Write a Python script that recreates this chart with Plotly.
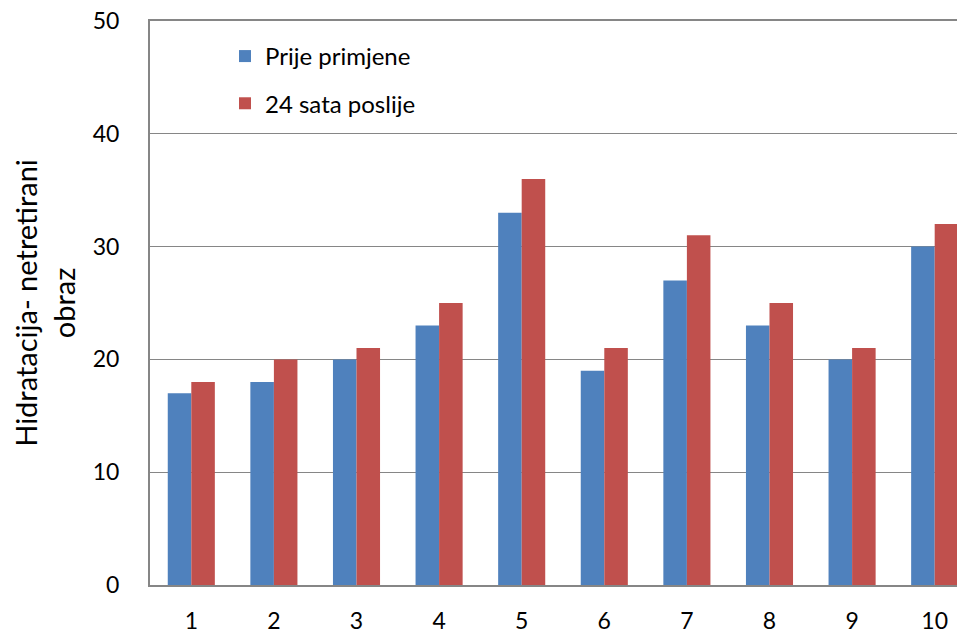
import plotly.graph_objects as go

categories = ["1", "2", "3", "4", "5", "6", "7", "8", "9", "10"]
prije = [17, 18, 20, 23, 33, 19, 27, 23, 20, 30]
poslije = [18, 20, 21, 25, 36, 21, 31, 25, 21, 32]
series_names = ["Prije primjene", "24 sata poslije"]
y_ticks = [0, 10, 20, 30, 40, 50]

FONT = "Lato"
x_idx = list(range(1, len(categories) + 1))

fig = go.Figure()
fig.add_trace(go.Bar(x=x_idx, y=prije, name=series_names[0], marker_color="#4F81BD",
                     marker_line_width=0, legendgroup="a"))
fig.add_trace(go.Bar(x=x_idx, y=poslije, name=series_names[1], marker_color="#C0504D",
                     marker_line_width=0, legendgroup="b"))

# page body has an 8px margin, so the figure is sized/offset to compensate
fig.update_layout(
    width=957, height=622,
    margin=dict(l=142, r=0, t=13, b=45, autoexpand=False),
    paper_bgcolor="white", plot_bgcolor="white",
    barmode="group", bargap=0.43, bargroupgap=0,
    font=dict(family=FONT, size=23, color="black"),
    legend=dict(x=0.092, y=0.977, xanchor="left", yanchor="top",
                bgcolor="rgba(0,0,0,0)", font=dict(size=24), tracegroupgap=13,
                itemwidth=30),
    xaxis=dict(tickmode="array", tickvals=x_idx, ticktext=categories,
               range=[0.5, 10.367], showgrid=False, showline=True, mirror=True,
               linecolor="#868686", linewidth=2, ticks="", ticklabelstandoff=14,
               ticklabeloverflow="allow", tickfont=dict(size=23)),
    yaxis=dict(range=[0, 50.001], tickvals=y_ticks, showgrid=True, gridcolor="#868686",
               gridwidth=1, showline=True, linecolor="#868686", linewidth=2,
               ticks="", ticklabelstandoff=24, zeroline=False, ticklabeloverflow="allow",
               title=dict(text="Hidratacija- netretirani<br>obraz", standoff=15,
                          font=dict(size=29))),
)

fig.write_html("out.html")
